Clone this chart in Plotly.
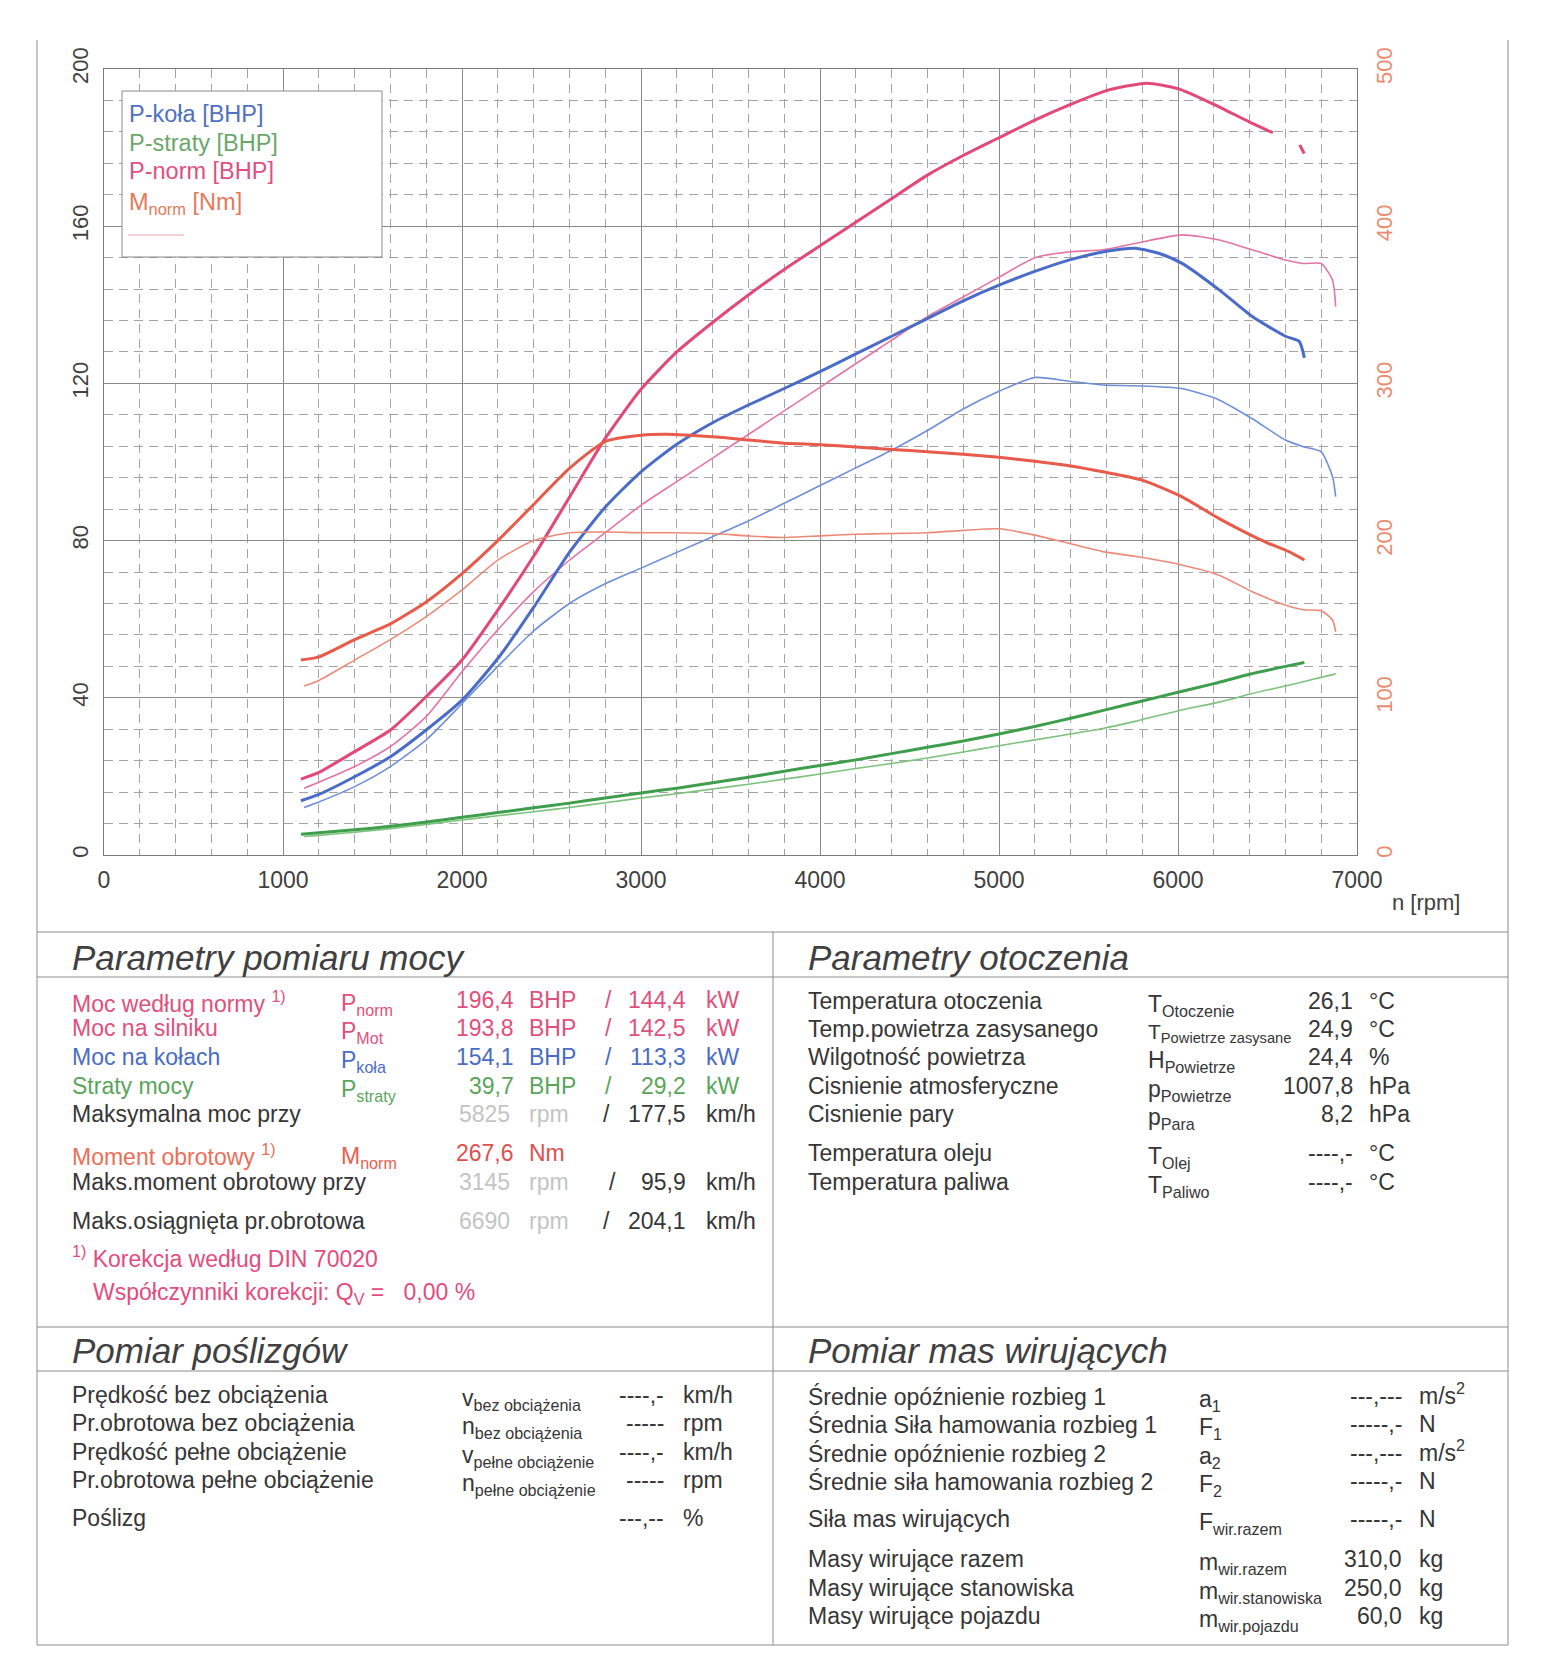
import plotly.graph_objects as go

W, H = 1552, 1680

# ---------------- chart data ----------------
rpm_pnorm = [1100, 1200, 1400, 1600, 1800, 2000, 2200, 2400, 2600, 2800, 3000, 3200, 3400, 3600, 3800,
             4000, 4200, 4400, 4600, 4800, 5000, 5200, 5400, 5600, 5825, 6000, 6200, 6400, 6530, 6600, 6680, 6705]
p_norm = [19.3, 21.0, 26.3, 31.8, 40.3, 49.6, 62.3, 76.0, 91.0, 106.0, 118.5, 128.0, 135.5, 142.5, 149.0,
          155.0, 161.0, 167.0, 173.0, 178.0, 182.5, 187.0, 191.0, 194.5, 196.4, 195.0, 191.0, 186.5, 183.8, None, 180.7, 178.5]

rpm_pkola = [1100, 1200, 1400, 1600, 1800, 2000, 2200, 2400, 2600, 2800, 3000, 3200, 3400, 3600, 3800,
             4000, 4200, 4400, 4600, 4800, 5000, 5200, 5400, 5600, 5760, 5900, 6020, 6230, 6415, 6600, 6677, 6706]
p_kola = [13.8, 15.4, 19.9, 25.0, 31.8, 39.4, 50.0, 63.0, 77.0, 88.5, 97.5, 104.5, 110.0, 114.5, 118.7,
          123.0, 127.5, 132.0, 136.5, 141.0, 145.0, 148.5, 151.5, 153.6, 154.4, 153.0, 150.6, 143.8, 137.0, 132.0, 130.7, 126.5]

rpm_pstraty = [1100, 1400, 1600, 1800, 2000, 2200, 2400, 2600, 2800, 3000, 3200, 3400, 3600, 3800, 4000,
               4200, 4400, 4600, 4800, 5000, 5200, 5400, 5600, 5800, 6000, 6200, 6400, 6600, 6706]
p_straty = [5.3, 6.4, 7.3, 8.4, 9.6, 10.8, 12.0, 13.2, 14.5, 15.8, 17.0, 18.4, 19.8, 21.3, 22.8,
            24.2, 25.8, 27.4, 29.0, 30.8, 32.7, 34.8, 37.0, 39.2, 41.4, 43.6, 46.0, 48.0, 49.0]

rpm_mnorm = [1100, 1200, 1400, 1600, 1800, 2000, 2200, 2400, 2600, 2800, 3000, 3145, 3400, 3600, 3800,
             4000, 4200, 4400, 4600, 4800, 5000, 5200, 5400, 5580, 5800, 6020, 6230, 6490, 6620, 6706]
m_norm = [124, 126, 137, 147, 161, 179, 200, 223, 246, 263, 267, 267.6, 266, 264, 262,
          261, 259.5, 258, 256.5, 255, 253, 250.5, 247.5, 243.8, 238.5, 228, 214, 199, 193, 187.7]

# second (thin) run
rpm_run2 = [1118, 1200, 1400, 1600, 1800, 2000, 2200, 2400, 2600, 2800, 3000, 3200, 3400, 3600, 3800,
            4000, 4200, 4400, 4600, 4800, 5000, 5200, 5400, 5580, 5760, 6020, 6230, 6415, 6600, 6700, 6800, 6863, 6881]
p_norm2 = [17.0, 18.5, 22.5, 27.6, 35.2, 46.6, 57.3, 67.0, 75.0, 82.0, 89.0, 95.0, 101.0, 107.0, 113.0,
           119.0, 125.0, 131.0, 137.0, 142.0, 147.0, 152.0, 153.5, 154.0, 155.6, 157.8, 156.5, 154.0, 151.4, 150.5, 150.5, 146.3, 139.5]
p_kola2 = [12.1, 13.5, 17.4, 22.5, 29.3, 38.5, 48.0, 57.0, 64.0, 69.0, 73.0, 77.0, 81.0, 85.0, 89.5,
           94.0, 98.5, 103.0, 108.0, 113.5, 118.0, 121.5, 120.5, 119.6, 119.4, 118.7, 115.8, 111.0, 105.6, 103.9, 102.6, 96.3, 91.2]
m_norm2 = [107.5, 111, 124, 137, 151.6, 168.6, 187.6, 200, 205, 205.5, 205, 205, 204.5, 203, 202,
           203, 204, 204.5, 205, 206.5, 207.5, 203.5, 198, 193, 190, 184.5, 178, 167.5, 159, 156, 155.4, 149.5, 142]
p_straty2 = [4.7, 5.0, 5.8, 6.7, 7.8, 8.9, 10.0, 11.0, 12.1, 13.3, 14.5, 15.6, 16.8, 18.0, 19.3,
             20.6, 22.0, 23.3, 24.7, 26.2, 27.8, 29.3, 30.8, 32.2, 34.0, 36.9, 38.9, 41.1, 43.0, 44.1, 45.2, 45.9, 46.2]

x_ticks = [0, 1000, 2000, 3000, 4000, 5000, 6000, 7000]
y_ticks = [0, 40, 80, 120, 160, 200]
y2_ticks = [0, 100, 200, 300, 400, 500]

legend_labels = ["P-koła [BHP]", "P-straty [BHP]", "P-norm [BHP]", "M<sub>norm</sub> [Nm]"]

# ---------------- table texts ----------------
power_rows = [
    ["Moc według normy <sup>1)</sup>", "P<sub>norm</sub>", "196,4", "BHP", "144,4", "kW"],
    ["Moc na silniku", "P<sub>Mot</sub>", "193,8", "BHP", "142,5", "kW"],
    ["Moc na kołach", "P<sub>koła</sub>", "154,1", "BHP", "113,3", "kW"],
    ["Straty mocy", "P<sub>straty</sub>", "39,7", "BHP", "29,2", "kW"],
]
speed_rows = [
    ["Maksymalna moc przy", "5825", "177,5"],
    ["Maks.moment obrotowy przy", "3145", "95,9"],
    ["Maks.osiągnięta pr.obrotowa", "6690", "204,1"],
]
torque_row = ["Moment obrotowy <sup>1)</sup>", "M<sub>norm</sub>", "267,6", "Nm"]
ambient_rows = [
    ["Temperatura otoczenia", "T<sub>Otoczenie</sub>", "26,1", "°C"],
    ["Temp.powietrza zasysanego", "T<sub>Powietrze zasysane</sub>", "24,9", "°C"],
    ["Wilgotność powietrza", "H<sub>Powietrze</sub>", "24,4", "%"],
    ["Cisnienie atmosferyczne", "p<sub>Powietrze</sub>", "1007,8", "hPa"],
    ["Cisnienie pary", "p<sub>Para</sub>", "8,2", "hPa"],
    ["Temperatura oleju", "T<sub>Olej</sub>", "----,-", "°C"],
    ["Temperatura paliwa", "T<sub>Paliwo</sub>", "----,-", "°C"],
]
slip_rows = [
    ["Prędkość bez obciążenia", "v<sub>bez obciążenia</sub>", "----,-", "km/h"],
    ["Pr.obrotowa bez obciążenia", "n<sub>bez obciążenia</sub>", "-----", "rpm"],
    ["Prędkość pełne obciążenie", "v<sub>pełne obciążenie</sub>", "----,-", "km/h"],
    ["Pr.obrotowa pełne obciążenie", "n<sub>pełne obciążenie</sub>", "-----", "rpm"],
    ["Poślizg", "", "---,--", "%"],
]
mass_rows = [
    ["Średnie opóźnienie rozbieg 1", "a<sub>1</sub>", "---,---", "m/s<sup>2</sup>"],
    ["Średnia Siła hamowania rozbieg 1", "F<sub>1</sub>", "-----,-", "N"],
    ["Średnie opóźnienie rozbieg 2", "a<sub>2</sub>", "---,---", "m/s<sup>2</sup>"],
    ["Średnie siła hamowania rozbieg 2", "F<sub>2</sub>", "-----,-", "N"],
    ["Siła mas wirujących", "F<sub>wir.razem</sub>", "-----,-", "N"],
    ["Masy wirujące razem", "m<sub>wir.razem</sub>", "310,0", "kg"],
    ["Masy wirujące stanowiska", "m<sub>wir.stanowiska</sub>", "250,0", "kg"],
    ["Masy wirujące pojazdu", "m<sub>wir.pojazdu</sub>", "60,0", "kg"],
]

# ---------------- styles ----------------
FONT = "Liberation Sans, Arial, sans-serif"
DARK = "#363636"
PINK = "#e0507c"
BLUE = "#4a6cc4"
GREEN = "#5aa55a"
LGRAY = "#c4c4c4"
LINEC = "#8c8c8c"

fig = go.Figure()


def add_line(x, y, color, width, axis="y"):
    fig.add_trace(go.Scatter(x=x, y=y, mode="lines", yaxis=axis, showlegend=False,
                             line=dict(color=color, width=width, shape="spline", smoothing=0.6),
                             hoverinfo="skip"))


# thin (second run)
add_line(rpm_run2, p_straty2, "#7cc27c", 1.6)
add_line(rpm_run2, m_norm2, "#ec8a78", 1.6, "y2")
add_line(rpm_run2, p_kola2, "#6e8fd6", 1.6)
add_line(rpm_run2, p_norm2, "#e274a6", 1.6)
# thick (main run)
add_line(rpm_pstraty, p_straty, "#3f9e4c", 3.0)
add_line(rpm_mnorm, m_norm, "#e85a4a", 3.0, "y2")
add_line(rpm_pkola, p_kola, "#4a6cc8", 3.0)
add_line(rpm_pnorm, p_norm, "#e24878", 3.0)

px = lambda v: v / W
py = lambda v: 1 - v / H

x0, x1 = 104, 1357
y_top, y_bot = 69, 855

grid_major = "#8a8a8a"
grid_minor = "#a4a4a4"

fig.update_layout(
    template="none",
    width=W, height=H, autosize=False, margin=dict(l=0, r=0, t=0, b=0, pad=0),
    paper_bgcolor="white", plot_bgcolor="white",
    font=dict(family=FONT, color=DARK),
    xaxis=dict(domain=[px(x0), px(x1)], range=[0, 7000], tickvals=x_ticks, automargin=False,
               showgrid=True, gridcolor=grid_major, gridwidth=1,
               minor=dict(dtick=200, showgrid=True, gridcolor=grid_minor, griddash="9px,6px", gridwidth=1),
               showline=True, linecolor="#7a7a7a", linewidth=1, mirror=True, zeroline=False,
               ticks="", tickfont=dict(size=23, color="#404040"), ticklabelstandoff=4),
    yaxis=dict(domain=[py(y_bot), py(y_top)], range=[0, 200], tickvals=y_ticks, automargin=False,
               showgrid=True, gridcolor=grid_major, gridwidth=1,
               minor=dict(dtick=8, showgrid=True, gridcolor=grid_minor, griddash="9px,6px", gridwidth=1),
               showline=True, linecolor="#7a7a7a", linewidth=1, mirror=True, zeroline=False,
               ticks="", tickangle=-90, tickfont=dict(size=22, color="#404040"), ticklabelstandoff=6),
    yaxis2=dict(overlaying="y", side="right", range=[0, 500], tickvals=y2_ticks, showgrid=False,
                automargin=False, zeroline=False, showline=False, ticks="", tickangle=-90,
                tickfont=dict(size=22, color="#ec8a70"), ticklabelstandoff=12),
)

shapes = []
anns = []


def hline(y, xa=37, xb=1508):
    shapes.append(dict(type="line", xref="paper", yref="paper", x0=px(xa), x1=px(xb), y0=py(y), y1=py(y),
                       line=dict(color=LINEC, width=1)))


def vline(x, ya, yb):
    shapes.append(dict(type="line", xref="paper", yref="paper", x0=px(x), x1=px(x), y0=py(ya), y1=py(yb),
                       line=dict(color=LINEC, width=1)))


def txt(x, y, text, color=DARK, size=23, anchor="left", dy=0):
    anns.append(dict(x=px(x), y=py(y + dy), xref="paper", yref="paper", text=text, showarrow=False,
                     xanchor=anchor, yanchor="middle", font=dict(family=FONT, size=size, color=color)))


# legend box
shapes.append(dict(type="rect", xref="paper", yref="paper", x0=px(122), x1=px(382), y0=py(257), y1=py(91),
                   fillcolor="white", line=dict(color="#8a8a8a", width=1), layer="above"))
shapes.append(dict(type="line", xref="paper", yref="paper", x0=px(128), x1=px(184), y0=py(235), y1=py(235),
                   line=dict(color="#f0a0b0", width=1), layer="above"))
leg_colors = ["#5070c0", "#6aa86a", "#e05080", "#e8785a"]
for i, (lab, c) in enumerate(zip(legend_labels, leg_colors)):
    txt(127, [114, 143, 171, 200][i], lab, c, 23.5, dy=(3 if "<sub>" in lab else 0))

txt(1426, 902, "n [rpm]", "#404040", 22, "center")

# page frame
vline(37, 40, 1645)
vline(1508, 40, 1645)
for yy in [932, 977, 1327, 1371, 1645]:
    hline(yy)
vline(773, 932, 1645)

# headings
HS = 35
LX = 70
txt(LX, 957, "<i>Parametry pomiaru mocy</i>", "#404040", HS)
txt(806, 957, "<i>Parametry otoczenia</i>", "#404040", HS)
txt(LX, 1350, "<i>Pomiar poślizgów</i>", "#404040", HS)
txt(806, 1350, "<i>Pomiar mas wirujących</i>", "#404040", HS)

SUBDY = 4
# power rows
row_colors = [PINK, PINK, BLUE, GREEN]
for (lab, sym, v1, u1, v2, u2), yy, c in zip(power_rows, [1000, 1028, 1057, 1086], row_colors):
    txt(LX, yy, lab, c, dy=(2 if "<sup>" in lab else 0))
    txt(339, yy, sym, c, dy=SUBDY)
    txt(516, yy, v1, c, anchor="right")
    txt(527, yy, u1, c)
    txt(608, yy, "/", c, anchor="center")
    txt(688, yy, v2, c, anchor="right")
    txt(704, yy, u2, c)

# speed rows
for (lab, r, v), yy, sl in zip(speed_rows, [1114, 1182, 1221], [606, 612, 606]):
    txt(LX, yy, lab)
    txt(512, yy, r, LGRAY, anchor="right")
    txt(527, yy, "rpm", LGRAY)
    txt(sl, yy, "/", DARK, anchor="center")
    txt(688, yy, v, anchor="right")
    txt(704, yy, "km/h")

# torque row
lab, sym, v, u = torque_row
txt(LX, 1153, lab, "#ec6e58", dy=2)
txt(339, 1153, sym, "#e8604e", dy=SUBDY)
txt(516, 1153, v, "#e0504e", anchor="right")
txt(527, 1153, u, "#e0504e")

# footnote
txt(LX, 1260, "<sup>1)</sup> Korekcja według DIN 70020", "#e24c7e", dy=-3)
txt(91, 1289, "Współczynniki korekcji: Q<sub>V</sub> =   0,00 %", "#e24c7e", dy=SUBDY)

# ambient rows
for (lab, sym, v, u), yy in zip(ambient_rows, [1001, 1029, 1057, 1086, 1114, 1153, 1182]):
    txt(806, yy, lab)
    sym_size = 21 if "zasysane" in sym else 23
    txt(1146, yy, sym, size=sym_size, dy=SUBDY)
    txt(1355, yy, v, anchor="right")
    txt(1367, yy, u)

# slip rows
for (lab, sym, v, u), yy in zip(slip_rows, [1395, 1423, 1452, 1480, 1518]):
    txt(LX, yy, lab)
    if sym:
        txt(460, yy, sym, dy=SUBDY)
    txt(666, yy, v, anchor="right")
    txt(681, yy, u)

# mass rows
for (lab, sym, v, u), yy in zip(mass_rows, [1396, 1424, 1453, 1481, 1519, 1559, 1588, 1616]):
    txt(806, yy, lab)
    txt(1197, yy, sym, dy=SUBDY)
    txt(1404, yy, v, anchor="right")
    txt(1417, yy, u, dy=(-2 if "<sup>" in u else 0))

fig.update_layout(shapes=shapes, annotations=anns)
fig.write_html("out.html", config=dict(displayModeBar=False, responsive=False),
               post_script="document.body.style.margin='0px';")
